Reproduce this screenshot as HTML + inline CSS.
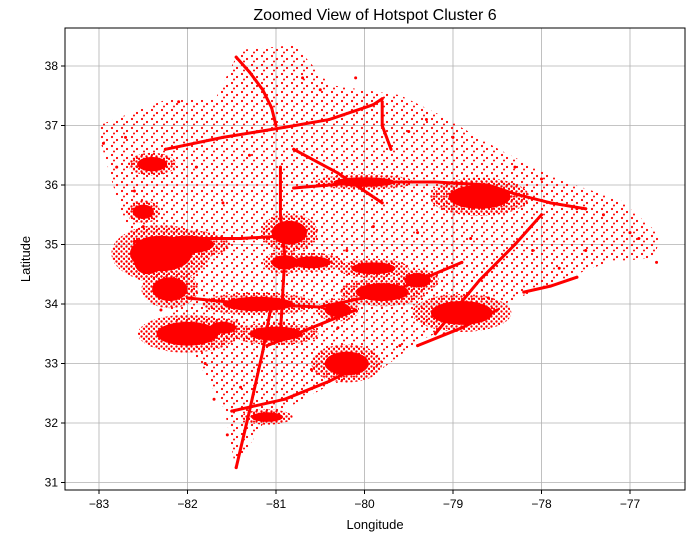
<!DOCTYPE html>
<html><head><meta charset="utf-8">
<style>
body{margin:0;background:#fff;}
svg{display:block;font-family:"Liberation Sans","DejaVu Sans",sans-serif;}
</style></head>
<body>
<svg id="chart" width="697" height="537" viewBox="0 0 697 537" xmlns="http://www.w3.org/2000/svg">
<defs>
<pattern id="dots" width="10" height="9" patternUnits="userSpaceOnUse">
<circle cx="2" cy="2" r="1.1" fill="#ff0000"/>
<circle cx="7" cy="5" r="1.1" fill="#ff0000"/>
<circle cx="4" cy="7.5" r="1" fill="#ff0000"/>
</pattern>
<pattern id="dots2" width="5" height="5" patternUnits="userSpaceOnUse">
<circle cx="1.5" cy="1.5" r="1.2" fill="#ff0000"/>
<circle cx="4" cy="3.8" r="1.2" fill="#ff0000"/>
</pattern>
<clipPath id="clip"><rect x="65" y="28" width="620" height="462"/></clipPath>
</defs>
<rect width="697" height="537" fill="#fff"/>
<text x="375" y="20" text-anchor="middle" font-size="16">Zoomed View of Hotspot Cluster 6</text>
<g id="grid"></g>
<g id="marks" clip-path="url(#clip)"></g>
<rect x="65" y="28" width="620" height="462" fill="none" stroke="#000" stroke-width="1"/>
<g id="axes"></g>
<text x="375" y="529" text-anchor="middle" font-size="13">Longitude</text>
<text transform="translate(30,259) rotate(-90)" text-anchor="middle" font-size="13">Latitude</text>
</svg>
<script>
const xTicks=[-83,-82,-81,-80,-79,-78,-77];
const yTicks=[31,32,33,34,35,36,37,38];
const hullLon=[-82.99,-82.76,-82.59,-82.14,-81.86,-81.58,-81.46,-81.12,-80.39,-79.82,-79.37,-78.58,-77.79,-77.23,-76.72,-76.66,-77.11,-77.79,-78.47,-79.15,-79.60,-80.39,-80.79,-81.41,-81.69,-82.25,-82.99];
const hullLat=[36.76,35.58,34.99,33.73,32.97,32.22,31.24,32.05,32.64,32.89,33.39,33.90,34.40,34.71,34.77,35.16,35.75,36.08,36.59,37.18,37.51,37.68,38.35,38.27,37.43,37.43,37.01];
const blobLon=[-82.3,-82.0,-80.85,-78.7,-82.0,-80.2,-81.2,-79.8,-78.9,-81.1,-82.4,-80.6,-79.9,-82.2,-81.0,-80.0,-82.5,-80.9,-79.4,-82.45,-80.3,-81.6];
const blobLat=[34.85,35.0,35.2,35.8,33.5,33.0,34.0,34.2,33.85,32.1,36.35,34.7,34.6,34.25,33.5,36.05,35.55,34.7,34.4,34.7,33.9,33.6];
const blobRx=[0.35,0.3,0.2,0.35,0.35,0.25,0.4,0.3,0.35,0.18,0.17,0.22,0.25,0.2,0.3,0.35,0.12,0.15,0.15,0.15,0.15,0.15];
const blobRy=[0.3,0.15,0.2,0.2,0.2,0.2,0.12,0.15,0.2,0.08,0.12,0.1,0.1,0.2,0.12,0.08,0.12,0.12,0.12,0.2,0.12,0.1];
const roads=[
 {lon:[-82.25,-81.6,-80.9,-80.4,-79.9,-79.8],lat:[36.6,36.8,36.97,37.1,37.35,37.45]},
 {lon:[-81.45,-81.3,-81.15,-81.05,-81.0],lat:[38.15,37.9,37.6,37.3,37.0]},
 {lon:[-82.6,-82.0,-81.4,-80.85],lat:[35.05,35.1,35.1,35.15]},
 {lon:[-82.0,-81.3,-80.5,-79.7,-78.9],lat:[34.1,34.0,33.95,34.2,34.7]},
 {lon:[-80.8,-80.0,-79.2,-78.6,-78.3],lat:[35.95,36.05,36.05,36.0,35.85]},
 {lon:[-79.2,-78.7,-78.3,-78.0],lat:[33.5,34.4,35.0,35.5]},
 {lon:[-80.95,-80.95,-80.9,-80.95],lat:[36.3,35.5,34.8,33.5]},
 {lon:[-81.45,-81.3,-81.15,-81.05],lat:[31.25,32.2,33.2,34.0]},
 {lon:[-78.2,-77.9,-77.6],lat:[34.2,34.3,34.45]},
 {lon:[-79.4,-78.9,-78.5],lat:[33.3,33.6,33.9]},
 {lon:[-81.5,-80.9,-80.4,-80.0],lat:[32.2,32.4,32.7,33.0]},
 {lon:[-80.8,-80.3,-79.8],lat:[36.6,36.2,35.7]},
 {lon:[-79.8,-79.8,-79.7],lat:[37.4,37.0,36.6]},
 {lon:[-81.1,-80.6,-80.1],lat:[33.3,33.6,33.9]},
 {lon:[-78.3,-77.9,-77.5],lat:[35.85,35.7,35.6]}
];
const ptLon=[-82.95,-82.8,-82.7,-82.5,-82.1,-81.9,-81.6,-81.3,-80.7,-80.5,-80.1,-79.5,-79.3,-79.0,-78.3,-78.0,-77.6,-77.3,-77.0,-76.9,-76.7,-81.8,-81.4,-80.6,-80.3,-79.6,-79.1,-78.6,-77.8,-82.6,-82.3,-81.7,-81.55,-81.2,-80.2,-79.9,-79.4,-78.8,-78.1,-77.5];
const ptLat=[36.7,36.3,36.8,35.3,37.4,36.3,35.7,36.5,37.8,37.6,37.8,36.9,37.1,36.8,36.3,36.1,35.6,35.5,35.2,35.1,34.7,33.0,32.6,32.9,33.6,33.3,33.5,34.1,34.6,35.9,33.9,32.4,31.8,32.9,34.9,35.3,35.2,35.1,34.9,34.9];

const L=65,R=685,T=28,B=490;
function X(v){return 99+(v+83)*88.5;}
function Y(v){return 66+(38-v)*59.5;}
const NS="http://www.w3.org/2000/svg";
function mk(tag,attrs,parent){const e=document.createElementNS(NS,tag);for(const k in attrs)e.setAttribute(k,attrs[k]);parent.appendChild(e);return e;}
const grid=document.getElementById('grid'),axes=document.getElementById('axes'),marks=document.getElementById('marks');
xTicks.forEach(t=>{
 const x=X(t);
 const g=mk('line',{x1:x,x2:x,y1:T,y2:B,stroke:'#b0b0b0','stroke-width':0.8},grid);
 
 
 mk('line',{x1:x,x2:x,y1:B,y2:B+4,stroke:'#000'},axes);
 const tx=mk('text',{x:x,y:B+18,'text-anchor':'middle','font-size':12},axes);
 tx.textContent=(t<0?'\u2212'+(-t):t);
 
 
});
yTicks.forEach(t=>{
 const y=Y(t);
 const g=mk('line',{x1:L,x2:R,y1:y,y2:y,stroke:'#b0b0b0','stroke-width':0.8},grid);
 
 
 mk('line',{x1:L-4,x2:L,y1:y,y2:y,stroke:'#000'},axes);
 const tx=mk('text',{x:L-7,y:y+4,'text-anchor':'end','font-size':12},axes);
 tx.textContent=t;
 
 
});
const hull=mk('polygon',{points:hullLon.map((v,i)=>X(v)+','+Y(hullLat[i])).join(' '),fill:'url(#dots)',stroke:'none'},marks);


blobLon.forEach((v,i)=>{
 const h=mk('ellipse',{cx:X(v),cy:Y(blobLat[i]),rx:blobRx[i]*88.5*1.6,ry:blobRy[i]*59.5*1.6,fill:'url(#dots2)'},marks);
 
 
});
roads.forEach(r=>{
 const p=mk('polyline',{points:r.lon.map((v,i)=>X(v)+','+Y(r.lat[i])).join(' '),fill:'none',stroke:'#ff0000','stroke-width':3,'stroke-linejoin':'round','stroke-linecap':'round'},marks);
 
 
 r.lon.forEach((v,i)=>{
  const c=mk('circle',{cx:X(v),cy:Y(r.lat[i]),r:1.5,fill:'#ff0000'},marks);
  
  
 });
});
blobLon.forEach((v,i)=>{
 const e=mk('ellipse',{cx:X(v),cy:Y(blobLat[i]),rx:blobRx[i]*88.5,ry:blobRy[i]*59.5,fill:'#ff0000'},marks);
 
 
});
ptLon.forEach((v,i)=>{
 const c=mk('circle',{cx:X(v),cy:Y(ptLat[i]),r:1.5,fill:'#ff0000'},marks);
 
 
});
</script>
</body></html>
